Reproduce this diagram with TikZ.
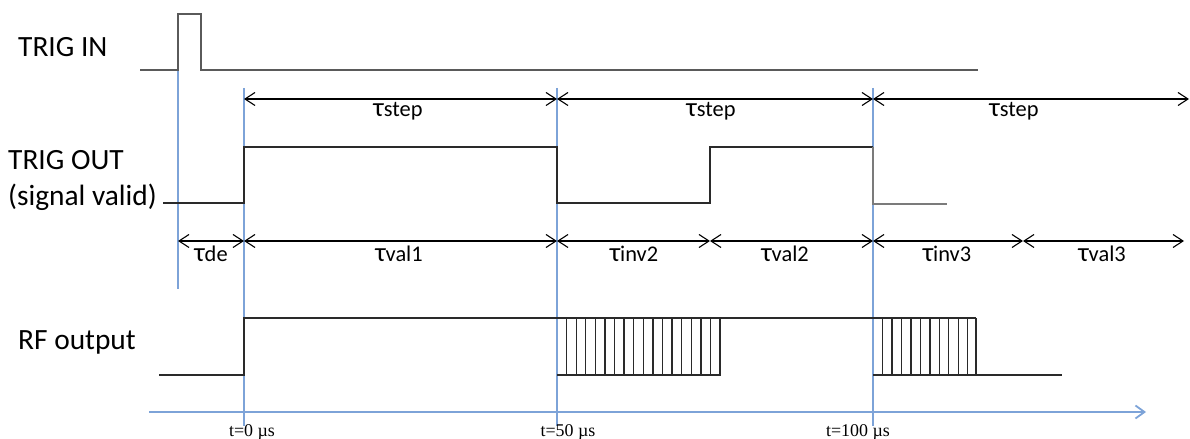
\documentclass[tikz,border=0pt]{standalone}
\usepackage{fontspec}
\setmainfont{Carlito}
\newfontfamily\timesf{Liberation Serif}
\usetikzlibrary{arrows.meta}
\definecolor{guide}{HTML}{7DA3D8}
\definecolor{sig}{HTML}{2A2A2A}
\definecolor{sigg}{HTML}{5A5A5A}
\newcommand{\mytau}{{\fontsize{27}{28}\selectfont τ}}
\tikzset{
  every picture/.style={x=1bp,y=-1bp},
  sigline/.style={draw=sig,line width=1.6bp},
  siggray/.style={draw=sigg,line width=2bp},
  guideline/.style={draw=guide,line width=1.2bp},
  dim/.style={draw=black,line width=1.1bp,{Straight Barb[length=10bp,width=13bp]}-{Straight Barb[length=10bp,width=13bp]}},
  axisline/.style={draw=guide,line width=1.8bp,-{Straight Barb[length=9bp,width=13bp]}},
  rowlabel/.style={font=\fontsize{29.5}{33}\selectfont,anchor=west,inner sep=0pt},
  taulabel/.style={font=\fontsize{22.5}{24}\selectfont,inner sep=0pt},
  timelabel/.style={font=\timesf\fontsize{18}{20}\selectfont,inner sep=0pt},
}
\begin{document}
\begin{tikzpicture}
\useasboundingbox (0,0) rectangle (1190,439);
% row labels
\node[rowlabel] (trigin) at (18,47) {TRIG IN};
\node[rowlabel] (trigout) at (8,160) {TRIG OUT};
\node[rowlabel] (sigvalid) at (8,197) {(signal valid)};
\node[rowlabel] (rfout) at (18,342) {RF output};

% time guide coordinates
\coordinate (g0top) at (178,70);  \coordinate (g0bot) at (178,289);
\coordinate (g1top) at (244,88);  \coordinate (g1bot) at (244,426);
\coordinate (g2top) at (557,88);  \coordinate (g2bot) at (557,426);
\coordinate (g3top) at (873,88);  \coordinate (g3bot) at (873,426);
\draw[guideline] (g0top) -- (g0bot);
\draw[guideline] (g1top) -- (g1bot);
\draw[guideline] (g2top) -- (g2bot);
\draw[guideline] (g3top) -- (g3bot);

% TRIG IN signal
\draw[siggray] (140,70) -- (178,70) -- (178,14) -- (201,14) -- (201,70) -- (978,70);

% tau step arrows
\coordinate (s0) at (244,99); \coordinate (s1) at (557,99);
\coordinate (s2) at (873,99); \coordinate (s3) at (1189,99);
\draw[dim] (s0) -- (s1);
\draw[dim] (s1) -- (s2);
\draw[dim] (s2) -- (s3);
\node[taulabel] (ts1) at (398,111) {\mytau step};
\node[taulabel] (ts2) at (711,111) {\mytau step};
\node[taulabel] (ts3) at (1014,111) {\mytau step};

% TRIG OUT signal
\draw[sigline] (163,203) -- (244,203) -- (244,147) -- (557,147) -- (557,203) -- (635,203);
\draw[sigline,line width=1.3bp] (635,203) -- (710,203) -- (710,147) -- (873,147);
\draw[siggray,draw=sigg!80] (873,147) -- (873,204) -- (947,204);

% tau arrows row 2
\coordinate (a0) at (178,241); \coordinate (a1) at (244,241);
\coordinate (a2) at (557,241); \coordinate (a3) at (710,241);
\coordinate (a4) at (873,241); \coordinate (a5) at (1023,241);
\coordinate (a6) at (1184,241);
\draw[dim] (a0) -- (a1);
\draw[dim] (a1) -- (a2);
\draw[dim] (a2) -- (a3);
\draw[dim] (a3) -- (a4);
\draw[dim] (a4) -- (a5);
\draw[dim] (a5) -- (a6);
\node[taulabel] (tde) at (211,254) {\mytau de};
\node[taulabel] (tv1) at (399,254) {\mytau val1};
\node[taulabel] (ti2) at (634,254) {\mytau inv2};
\node[taulabel] (tv2) at (785,254) {\mytau val2};
\node[taulabel] (ti3) at (947,254) {\mytau inv3};
\node[taulabel] (tv3) at (1102,254) {\mytau val3};

% RF output signal
\draw[sigline] (159,375) -- (244,375) -- (244,318) -- (976,318);
\draw[sigline] (557,375) -- (720,375) -- (720,318);
\foreach \k in {1,...,16} {
  \draw[sigline,line width=1.3bp] ({557+9.59*\k},318) -- ({557+9.59*\k},375);
}
\draw[sigline] (873,375) -- (1062,375);
\draw[sigline] (976,318) -- (976,375);
\foreach \k in {1,...,10} {
  \draw[sigline,line width=1.3bp] ({873+9.48*\k},318) -- ({873+9.48*\k},375);
}

% time axis
\coordinate (ax0) at (149,412); \coordinate (ax1) at (1146,412);
\draw[axisline] (ax0) -- (ax1);
\node[timelabel] (t0) at (252,432) {t=0 µs};
\node[timelabel] (t50) at (568,432) {t=50 µs};
\node[timelabel] (t100) at (858,432) {t=100 µs};
\end{tikzpicture}
\end{document}
